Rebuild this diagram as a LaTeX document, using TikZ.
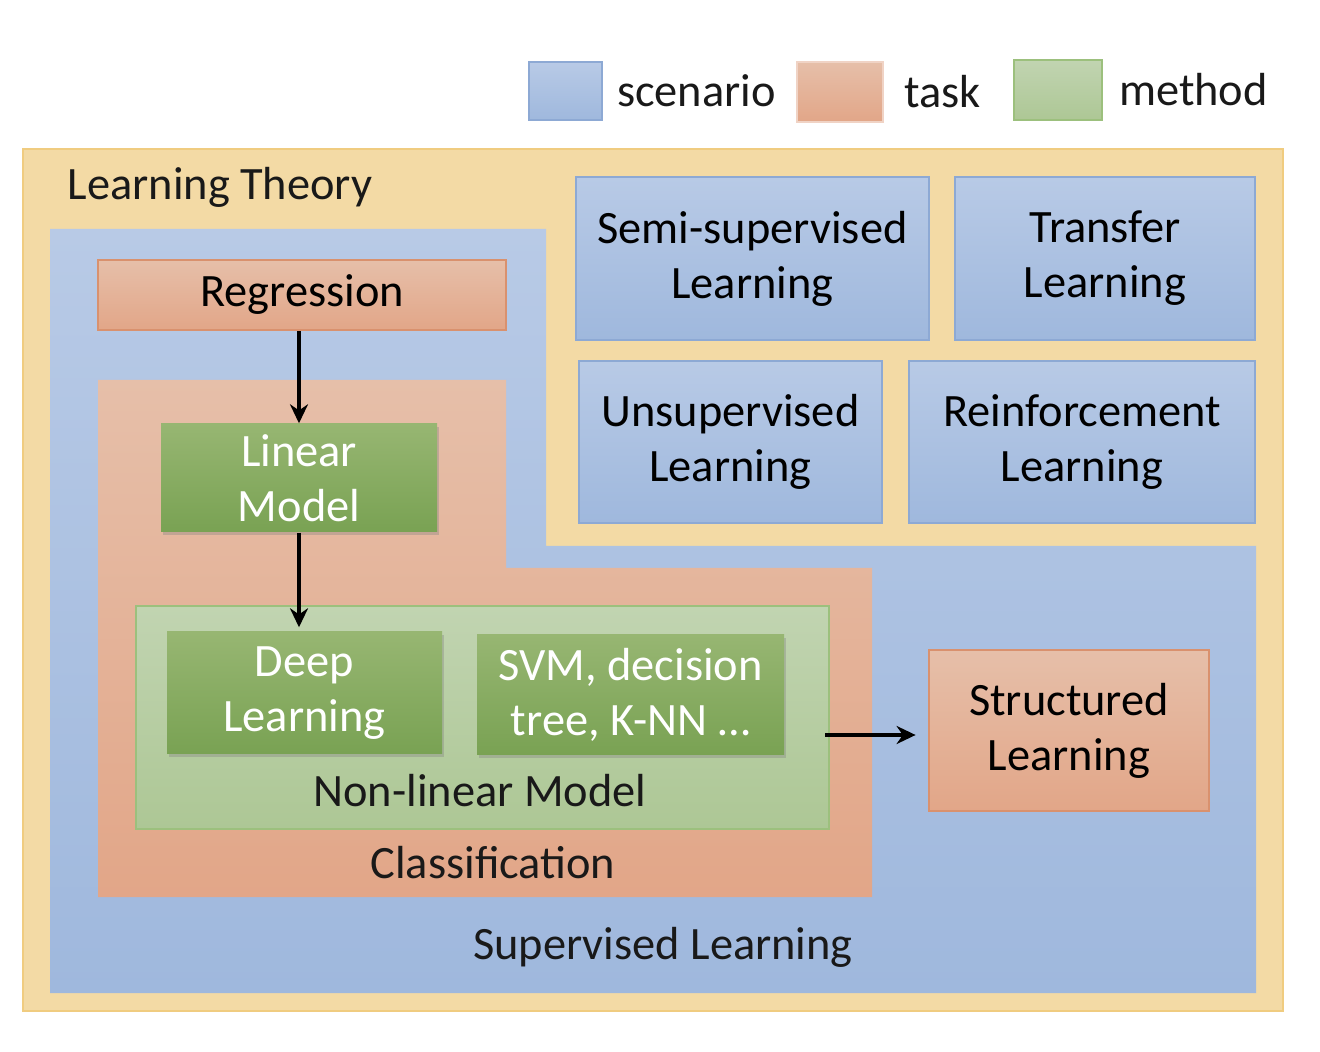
\documentclass[tikz,border=0pt]{standalone}
\usepackage{fontspec}
\setmainfont{Carlito}
\usepackage{xcolor}
\usetikzlibrary{arrows.meta, positioning, shadows}

\definecolor{theoryfill}{HTML}{F3DAA5}
\definecolor{theoryline}{HTML}{F0CC80}
\definecolor{scentop}{HTML}{B8CAE6}
\definecolor{scenbot}{HTML}{9FB8DD}
\definecolor{scenline}{HTML}{8DA9D4}
\definecolor{tasktop}{HTML}{E6BFA9}
\definecolor{taskbot}{HTML}{E2A688}
\definecolor{taskline}{HTML}{D9916E}
\definecolor{methtop}{HTML}{97B672}
\definecolor{methbot}{HTML}{79A253}
\definecolor{nltop}{HTML}{C1D4B1}
\definecolor{nlbot}{HTML}{ADC795}
\definecolor{nlline}{HTML}{9CC07D}

\begin{document}
\begin{tikzpicture}[font=\fontsize{13.2}{15.6}\selectfont,
    scen/.style={draw=scenline, line width=0.8pt, top color=scentop, bottom color=scenbot, align=center, inner sep=0pt},
    task/.style={draw=taskline, line width=0.8pt, top color=tasktop, bottom color=taskbot, align=center, inner sep=0pt},
    meth/.style={top color=methtop, bottom color=methbot, text=white, align=center, inner sep=0pt,
        drop shadow={opacity=0.35, shadow xshift=0.6pt, shadow yshift=-0.8pt}},
    txt/.style={inner sep=0pt, text=black!90},
    arr/.style={-{Stealth[length=1.9mm, width=1.8mm]}, line width=1pt}]
\useasboundingbox (0,0) rectangle (13.2,-10.52);

% legend
\node[scen, minimum width=0.73cm, minimum height=0.58cm] (legscen) at (5.655,-0.91) {};
\node[txt, right=0.13cm of legscen] (legscentxt) {scenario};
\node[task, draw=taskline!40, minimum width=0.86cm, minimum height=0.60cm] (legtask) at (8.40,-0.92) {};
\node[txt, right=0.19cm of legtask] (legtasktxt) {task};
\node[draw=nlline, line width=0.8pt, top color=nltop, bottom color=nlbot, minimum width=0.88cm, minimum height=0.60cm] (legmeth) at (10.58,-0.90) {};
\node[txt, right=0.15cm of legmeth] (legmethtxt) {method};

% regions
\filldraw[fill=theoryfill, draw=theoryline, line width=0.8pt] (0.23,-1.49) rectangle (12.83,-10.11);
\node[txt, anchor=west] (theory) at (0.67,-1.87) {Learning Theory};
\shade[top color=scentop, bottom color=scenbot]
    (0.50,-2.29) -- (5.46,-2.29) -- (5.46,-5.46) -- (12.56,-5.46) -- (12.56,-9.93) -- (0.50,-9.93) -- cycle;
\shade[top color=tasktop, bottom color=taskbot]
    (0.98,-3.80) -- (5.06,-3.80) -- (5.06,-5.68) -- (8.72,-5.68) -- (8.72,-8.97) -- (0.98,-8.97) -- cycle;
\node[draw=nlline, line width=0.8pt, top color=nltop, bottom color=nlbot, minimum width=6.93cm, minimum height=2.23cm] (nonlin) at (4.825,-7.175) {};

% scenarios
\node[scen, minimum width=3.53cm, minimum height=1.63cm] (semi) at (7.525,-2.585) {Semi-supervised\\Learning};
\node[scen, minimum width=3.00cm, minimum height=1.63cm] (transfer) at (11.05,-2.585) {Transfer\\Learning};
\node[scen, minimum width=3.03cm, minimum height=1.62cm] (unsup) at (7.305,-4.42) {Unsupervised\\Learning};
\node[scen, minimum width=3.46cm, minimum height=1.62cm] (reinf) at (10.82,-4.42) {Reinforcement\\Learning};

% tasks and methods
\node[task, minimum width=4.08cm, minimum height=0.70cm] (reg) at (3.02,-2.95) {Regression};
\node[meth, minimum width=2.76cm, minimum height=1.08cm] (lin) at (2.99,-4.78) {Linear\\Model};
\node[meth, minimum width=2.75cm, minimum height=1.22cm] (deep) at (3.045,-6.93) {Deep\\Learning};
\node[meth, minimum width=3.07cm, minimum height=1.20cm] (svm) at (6.305,-6.95) {SVM, decision\\tree, K-NN \dots};
\node[task, minimum width=2.80cm, minimum height=1.61cm] (struct) at (10.69,-7.305) {Structured\\Learning};

\node[txt] (nonlintxt) at (4.80,-7.91) {Non-linear Model};
\node[txt] (classtxt) at (4.93,-8.63) {Classification};
\node[txt] (suptxt) at (6.63,-9.47) {Supervised Learning};

% arrows
\coordinate (toStruct) at (8.25,-7.35);
\draw[arr] (lin.north |- reg.south) -- (lin.north);
\draw[arr, shorten >=0.04cm] (lin.south) -- (lin.south |- deep.north);
\draw[arr, shorten >=0.12cm] (toStruct) -- (toStruct -| struct.west);
\end{tikzpicture}
\end{document}
